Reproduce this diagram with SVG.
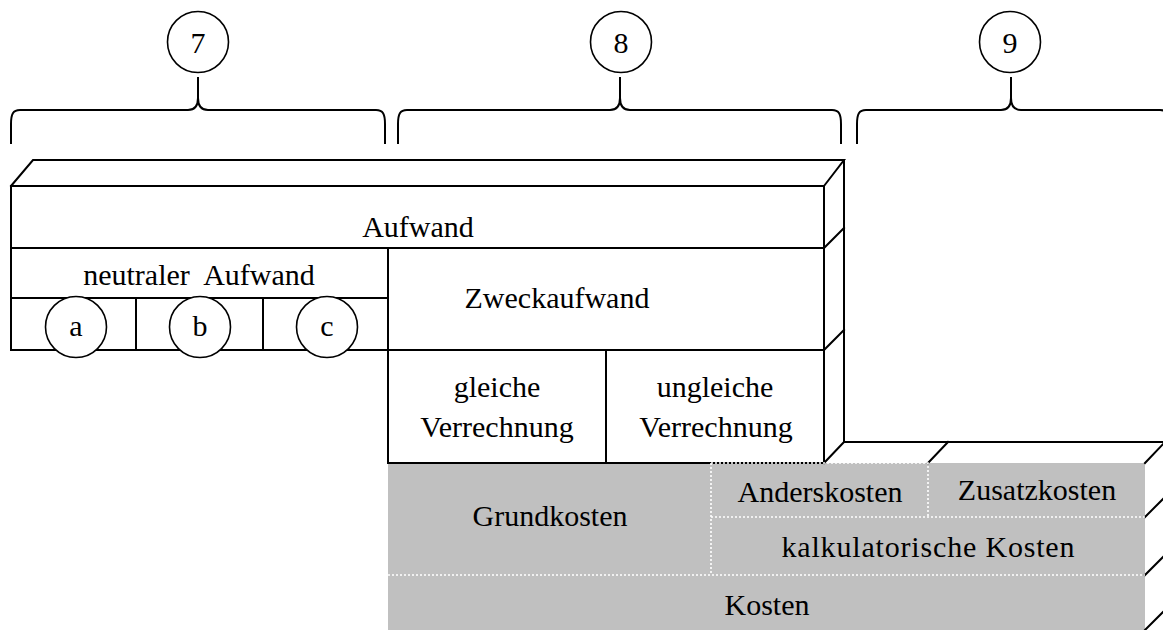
<svg xmlns="http://www.w3.org/2000/svg" width="1163" height="630" viewBox="0 0 1163 630">
<style>
.ln{fill:none;stroke:#000;stroke-width:2;stroke-linecap:square}
.br{fill:none;stroke:#000;stroke-width:2}
.cir{fill:#fff;stroke:#000;stroke-width:1.6}
.dot{fill:none;stroke:#fff;stroke-width:1.6;stroke-dasharray:2 2}
.t{font-family:"Liberation Serif","Times New Roman",serif;font-size:30px;fill:#000;text-anchor:middle}
</style>
<rect width="1163" height="630" fill="#fff"/>
<g id="brace7">
<path class="br" d="M11,144 L11,124 C11,114 13,110 20,110 L188,110 C195,110 198,106 198,98 L198,77 M198,98 C198,106 201,110 208,110 L376,110 C383,110 385,114 385,124 L385,144"/>
<circle class="cir" cx="198" cy="42" r="30.5"/>
<text class="t" x="198" y="53">7</text>
</g>
<g id="brace8">
<path class="br" d="M398,144 L398,124 C398,114 400,110 407,110 L610,110 C617,110 620,106 620,98 L620,77 M620,98 C620,106 623,110 630,110 L832,110 C839,110 841,114 841,124 L841,144"/>
<circle class="cir" cx="621" cy="42" r="30.5"/>
<text class="t" x="621" y="53">8</text>
</g>
<g id="brace9">
<path class="br" d="M857,144 L857,124 C857,114 859,110 866,110 L1001,110 C1008,110 1011,106 1011,98 L1011,77 M1011,98 C1011,106 1014,110 1021,110 L1160,110 C1167,110 1169,114 1169,124 L1169,144"/>
<circle class="cir" cx="1010" cy="42" r="30.5"/>
<text class="t" x="1010" y="53">9</text>
</g>
<g id="kosten-block">
<rect x="388" y="463" width="757" height="170" fill="#c0c0c0"/>
<path class="ln" d="M844,442 L1170,442 M824,463 L844,442 M928,463 L948,442 M1145,463 L1165,442 M1145,517 L1165,497 M1145,575 L1165,555 M1145,630 L1165,610"/>
</g>
<g id="aufwand">
<path class="ln" d="M11,186 L33,160 L844,160 L824,186 M844,160 L844,442"/>
<rect class="ln" x="11" y="186" width="813" height="62"/>
<text class="t" x="418" y="237">Aufwand</text>
<path class="ln" d="M824,248 L844,228 M824,350 L844,330"/>
</g>
<g id="neutraler-aufwand">
<rect class="ln" x="11" y="248" width="377" height="50"/>
<text class="t" x="199" y="285" xml:space="preserve">neutraler  Aufwand</text>
<rect class="ln" x="11" y="298" width="377" height="52"/>
<path class="ln" d="M136,298 L136,350 M263,298 L263,350"/>
</g>
<g id="a"><circle class="cir" cx="76" cy="327" r="30.5"/><text class="t" x="76" y="336">a</text></g>
<g id="b"><circle class="cir" cx="200" cy="327" r="30.5"/><text class="t" x="200" y="336">b</text></g>
<g id="c"><circle class="cir" cx="327" cy="327" r="30.5"/><text class="t" x="327" y="336">c</text></g>
<g id="zweckaufwand">
<rect class="ln" x="388" y="248" width="436" height="102"/>
<text class="t" x="557" y="308">Zweckaufwand</text>
</g>
<g id="gleiche">
<rect class="ln" x="388" y="350" width="218" height="113"/>
<text class="t" x="497" y="397">gleiche</text>
<text class="t" x="497" y="437">Verrechnung</text>
</g>
<g id="ungleiche">
<rect class="ln" x="606" y="350" width="218" height="113"/>
<text class="t" x="715" y="397">ungleiche</text>
<text class="t" x="716" y="437">Verrechnung</text>
</g>
<g id="grundkosten"><text class="t" x="550" y="526">Grundkosten</text></g>
<g id="anderskosten">
<path class="dot" d="M711,463 L928,463 L928,517 M711,463 L711,575 M711,517 L1145,517 M388,575 L1145,575"/>
<text class="t" x="820" y="502">Anderskosten</text>
</g>
<g id="zusatzkosten"><text class="t" x="1037" y="500">Zusatzkosten</text></g>
<g id="kalkulatorische-kosten"><text class="t" x="928" y="557" textLength="293" lengthAdjust="spacing">kalkulatorische Kosten</text></g>
<g id="kosten"><text class="t" x="767" y="615">Kosten</text></g>
</svg>
